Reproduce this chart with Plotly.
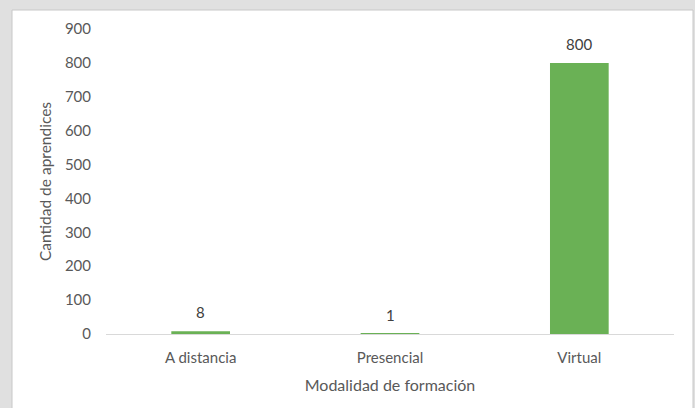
import plotly.graph_objects as go

categories = ["A distancia", "Presencial", "Virtual"]
values = [8, 1, 800]
y_ticks = [0, 100, 200, 300, 400, 500, 600, 700, 800, 900]

W, H = 695, 408
L, R, T, B = 106, 21, 29, 74
pw, ph = W - L - R, H - T - B

def px_x(p):
    return (p - L) / pw

def px_y(p):
    return (H - B - p) / ph

font_fam = "Lato, Open Sans, sans-serif"
gray = "#595959"

fig = go.Figure()
fig.add_trace(go.Bar(
    x=categories, y=values,
    marker=dict(color="#6ab155", line=dict(width=0)),
    width=0.31,
    hoverinfo="skip",
))

for c, v in zip(categories, values):
    fig.add_annotation(x=c, y=v, text=str(v), showarrow=False,
                       yanchor="middle", yshift=19,
                       font=dict(family=font_fam, size=15, color="#404040"))

fig.add_shape(type="rect", xref="paper", yref="paper",
              x0=px_x(12), x1=px_x(693), y0=px_y(412), y1=px_y(10),
              fillcolor="white", line=dict(color="#c8c8c8", width=1), layer="below")

fig.update_layout(
    width=W, height=H,
    margin=dict(l=L, r=R, t=T, b=B),
    paper_bgcolor="#e0e0e0",
    plot_bgcolor="white",
    showlegend=False,
    xaxis=dict(
        title=dict(text="Modalidad de formación", font=dict(family=font_fam, size=16, color=gray), standoff=14),
        tickfont=dict(family=font_fam, size=15, color=gray),
        showline=True, linecolor="#d9d9d9", linewidth=1,
        ticks="", showgrid=False, ticklabelstandoff=10,
    ),
    yaxis=dict(
        title=dict(text="Cantidad de aprendices", font=dict(family=font_fam, size=15.5, color=gray), standoff=9),
        tickfont=dict(family=font_fam, size=15, color=gray),
        range=[0, 900], tickvals=y_ticks,
        showgrid=False, zeroline=False, showline=False, ticks="",
        ticklabelstandoff=14,
    ),
)

fig.write_html("out.html", post_script="document.body.style.margin='0';",
               config={"displayModeBar": False})
